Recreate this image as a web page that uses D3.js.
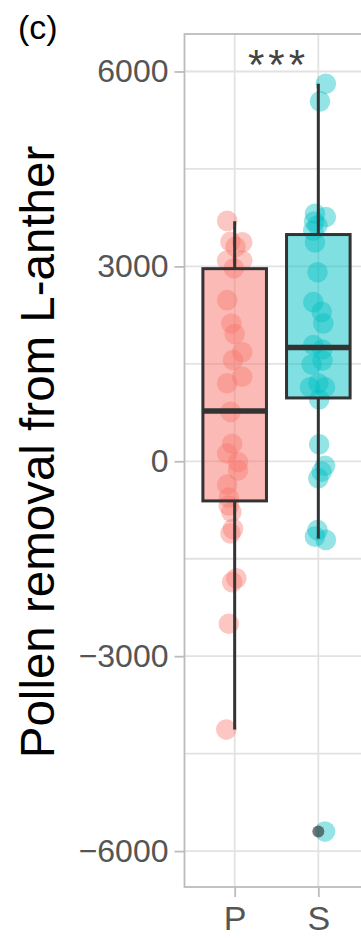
<!DOCTYPE html>
<html>
<head>
<meta charset="utf-8">
<script src="https://cdn.jsdelivr.net/npm/d3@7"></script>
<style>
  html, body { margin: 0; padding: 0; background: #fff; }
  svg { display: block; }
  text { font-family: "Liberation Sans", Arial, Helvetica, sans-serif; }
</style>
</head>
<body>
<svg id="chart" width="361" height="938"></svg>
<script>
// Groups on the x axis
const groups = ["P", "S"];

// Pollen removal per flower, group P
const valuesP = [3700, 3380, 3370, 3300, 3090, 3090, 2970, 2480, 2120, 1960, 1680, 1560, 1300, 1200,
  760, 270, 120, -10, -140, -360, -560, -680, -780, -1040, -1110, -1800, -1860, -2500, -4130];
// horizontal jitter, in units of the category step
const jitterP = [-0.09, -0.05, 0.09, 0.01, -0.09, 0.09, -0.01, -0.09, -0.04, 0.0, 0.09, -0.02, 0.09, -0.09,
  -0.05, -0.03, -0.09, 0.04, 0.04, -0.09, -0.07, -0.07, -0.04, -0.02, -0.05, 0.02, -0.03, -0.07, -0.10];

// Pollen removal per flower, group S
const valuesS = [5810, 5540, 3810, 3760, 3690, 3630, 3550, 3370, 2910, 2450, 2300, 2120, 1790, 1720,
  1550, 1490, 1200, 1140, 1140, 950, 260, -70, -160, -260, -1060, -1160, -1210, -5700];
const jitterS = [0.09, 0.02, -0.04, 0.09, -0.05, -0.01, -0.06, -0.04, -0.01, -0.06, 0.04, 0.06, -0.06, 0.05,
  0.05, -0.08, 0.0, -0.10, 0.08, 0.01, 0.01, 0.08, 0.04, 0.0, -0.01, -0.04, 0.09, 0.08];

// Box summaries per group: lower whisker, Q1, median, Q3, upper whisker
const whiskerLow = [-4130, -1190];
const q1 = [-610, 975];
const median = [775, 1750];
const q3 = [2965, 3490];
const whiskerHigh = [3695, 5810];
// points beyond the whiskers
const outliers = [[], [-5700]];

const yTicks = [-6000, -3000, 0, 3000, 6000];
const yGrid = [-6000, -4500, -3000, -1500, 0, 1500, 3000, 4500, 6000];

const colors = ["#F8766D", "#00BFC4"];
const panelLabel = "(c)";
const yTitle = "Pollen removal from L-anther";
const signif = "***";

const svg = d3.select("#chart");

const panel = { left: 184.5, right: 368.5, top: 34, bottom: 887 };

const y = d3.scaleLinear().domain([-6553, 6577]).range([panel.bottom, panel.top]);
const x = d3.scalePoint().domain(groups).range([panel.left, panel.right]).padding(0.6);
const step = x.step();

svg.append("defs").append("clipPath").attr("id", "panel-clip")
  .append("rect")
  .attr("x", panel.left).attr("y", panel.top)
  .attr("width", panel.right - panel.left).attr("height", panel.bottom - panel.top);

// grid
const grid = svg.append("g").attr("clip-path", "url(#panel-clip)");
grid.selectAll("line.h").data(yGrid).join("line")
  .attr("class", "h")
  .attr("x1", panel.left).attr("x2", panel.right)
  .attr("y1", d => y(d)).attr("y2", d => y(d))
  .attr("stroke", "#e2e2e2").attr("stroke-width", 1.8);
grid.selectAll("line.v").data(groups).join("line")
  .attr("class", "v")
  .attr("x1", d => x(d)).attr("x2", d => x(d))
  .attr("y1", panel.top).attr("y2", panel.bottom)
  .attr("stroke", "#e2e2e2").attr("stroke-width", 1.8);

// jittered observations
const pts = [];
valuesP.forEach((v, i) => pts.push({ g: 0, v, j: jitterP[i] }));
valuesS.forEach((v, i) => pts.push({ g: 1, v, j: jitterS[i] }));

const plot = svg.append("g").attr("clip-path", "url(#panel-clip)");
plot.selectAll("circle.pt").data(pts).join("circle")
  .attr("class", "pt")
  .attr("cx", d => x(groups[d.g]) + d.j * step)
  .attr("cy", d => y(d.v))
  .attr("r", 10.3)
  .attr("fill", d => colors[d.g])
  .attr("fill-opacity", 0.42);

// boxplots
const boxW = 0.76 * step;
const boxes = groups.map((g, i) => ({
  g, i, lo: whiskerLow[i], q1: q1[i], med: median[i], q3: q3[i], hi: whiskerHigh[i], out: outliers[i]
}));
const bg = plot.selectAll("g.box").data(boxes).join("g").attr("class", "box");
bg.append("line")
  .attr("x1", d => x(d.g)).attr("x2", d => x(d.g))
  .attr("y1", d => y(d.q3)).attr("y2", d => y(d.hi))
  .attr("stroke", "#333").attr("stroke-width", 3);
bg.append("line")
  .attr("x1", d => x(d.g)).attr("x2", d => x(d.g))
  .attr("y1", d => y(d.q1)).attr("y2", d => y(d.lo))
  .attr("stroke", "#333").attr("stroke-width", 3);
bg.append("rect")
  .attr("x", d => x(d.g) - boxW / 2)
  .attr("width", boxW)
  .attr("y", d => y(d.q3))
  .attr("height", d => y(d.q1) - y(d.q3))
  .attr("fill", d => colors[d.i]).attr("fill-opacity", 0.5)
  .attr("stroke", "#333").attr("stroke-width", 3);
bg.append("line")
  .attr("x1", d => x(d.g) - boxW / 2).attr("x2", d => x(d.g) + boxW / 2)
  .attr("y1", d => y(d.med)).attr("y2", d => y(d.med))
  .attr("stroke", "#333").attr("stroke-width", 5.5);
bg.selectAll("circle.out").data(d => d.out.map(v => ({ g: d.g, v }))).join("circle")
  .attr("class", "out")
  .attr("cx", d => x(d.g)).attr("cy", d => y(d.v))
  .attr("r", 6).attr("fill", "#333").attr("fill-opacity", 0.65);

// panel border
svg.append("rect")
  .attr("x", panel.left).attr("y", panel.top)
  .attr("width", panel.right - panel.left).attr("height", panel.bottom - panel.top)
  .attr("fill", "none").attr("stroke", "#bcbcbc").attr("stroke-width", 1.8);

// y axis
const yAxis = svg.append("g")
  .attr("transform", `translate(${panel.left},0)`)
  .call(d3.axisLeft(y).tickValues(yTicks).tickFormat(d3.format("d")).tickSize(10).tickPadding(6));
yAxis.select(".domain").remove();
yAxis.selectAll(".tick line").attr("stroke", "#bcbcbc").attr("stroke-width", 1.8);
yAxis.selectAll(".tick text")
  .attr("fill", "#555").style("font-size", "32px");

// x axis
const xAxis = svg.append("g")
  .attr("transform", `translate(0,${panel.bottom})`)
  .call(d3.axisBottom(x).tickSize(10));
xAxis.select(".domain").remove();
xAxis.selectAll(".tick line").attr("stroke", "#bcbcbc").attr("stroke-width", 1.8);
xAxis.selectAll(".tick text")
  .attr("y", 43).attr("dy", null)
  .attr("fill", "#555").style("font-size", "34px");

// titles
svg.append("text")
  .attr("transform", `translate(54,452) rotate(-90)`)
  .attr("text-anchor", "middle")
  .attr("fill", "#000")
  .style("font-size", "47.5px")
  .text(yTitle);

svg.append("text")
  .attr("x", 18).attr("y", 39)
  .attr("fill", "#000")
  .style("font-size", "34px")
  .text(panelLabel);

svg.append("text")
  .attr("x", (x("P") + x("S")) / 2 + 2).attr("y", 79)
  .attr("text-anchor", "middle")
  .attr("fill", "#444")
  .style("font-size", "42px")
  .style("letter-spacing", "4px")
  .text(signif);
</script>
</body>
</html>
